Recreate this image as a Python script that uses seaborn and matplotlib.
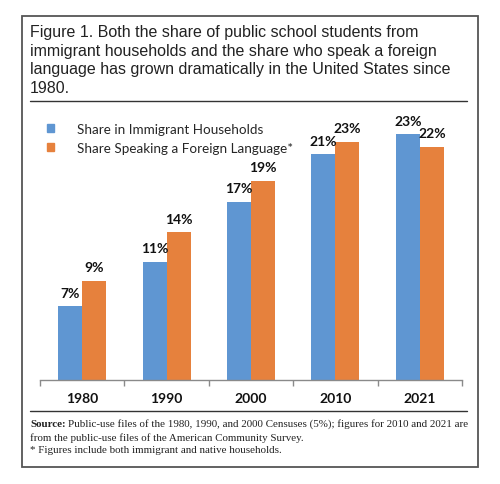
import matplotlib
matplotlib.use("Agg")
import matplotlib.pyplot as plt
import seaborn as sns
import pandas as pd
from matplotlib.patches import Rectangle
from matplotlib.lines import Line2D

years = ["1980", "1990", "2000", "2010", "2021"]
immigrant = [7.0, 11.2, 16.9, 21.4, 23.3]
foreign_lang = [9.4, 14.0, 18.9, 22.6, 22.1]
series_names = ["Share in Immigrant Households", "Share Speaking a Foreign Language*"]
colors = ["#5F96D2", "#E6813D"]

title = ("Figure 1. Both the share of public school students from\n"
         "immigrant households and the share who speak a foreign\n"
         "language has grown dramatically in the United States since\n"
         "1980.")
source_bold = "Source:"
source_rest = "Public-use files of the 1980, 1990, and 2000 Censuses (5%); figures for 2010 and 2021 are"
source_line2 = "from the public-use files of the American Community Survey."
source_line3 = "* Figures include both immigrant and native households."

df = pd.DataFrame({
    "year": years * 2,
    "value": immigrant + foreign_lang,
    "series": [series_names[0]] * len(years) + [series_names[1]] * len(years),
})

sns.set_theme(style="white")
W, H = 500, 485
fig = plt.figure(figsize=(W / 100, H / 100), dpi=100)

def fx(x):
    return x / W

def fy(y):
    return 1 - y / H

ax = fig.add_axes([fx(40), fy(381), fx(462) - fx(40), fy(115) - fy(381)])
sns.barplot(data=df, x="year", y="value", hue="series", palette=colors,
            width=0.57, ax=ax, saturation=1, legend=False, edgecolor="none")
ax.set_ylim(0, 266 / 10.55)
ax.set_xlim(-0.5, len(years) - 0.5)
for c in ax.containers:
    ax.bar_label(c, labels=[f"{int(v + 0.5)}%" for v in c.datavalues], padding=5.5,
                 fontsize=10, fontweight="bold", family="Lato", color="#111111")

for s in ["top", "right", "left"]:
    ax.spines[s].set_visible(False)
ax.spines["bottom"].set_color("#8a8a8a")
ax.spines["bottom"].set_linewidth(1.0)
ax.set_yticks([])
ax.set_xlabel("")
ax.set_ylabel("")
ax.set_xticks(range(len(years)))
ax.set_xticklabels(years, fontsize=10, fontweight="bold", family="Lato", color="#111111")
ax.tick_params(axis="x", length=0, pad=9)
ax.set_xticks([i - 0.5 for i in range(len(years) + 1)], minor=True)
ax.tick_params(axis="x", which="minor", length=4, direction="out", color="#8a8a8a", width=1, bottom=True)

# legend
handles = [Rectangle((0, 0), 1, 1, color=c) for c in colors]
fig.legend(handles, series_names, loc="upper left",
           bbox_to_anchor=(fx(47), fy(123.5)), frameon=False, borderpad=0,
           borderaxespad=0, handlelength=0.55, handleheight=0.55, handletextpad=1.7,
           labelspacing=0.55, prop={"family": "Lato", "size": 9.7})

# outer box
fig.patches.append(Rectangle((fx(22), fy(468)), fx(478) - fx(22), fy(17) - fy(468),
                             transform=fig.transFigure, fill=False,
                             edgecolor="#555555", linewidth=1.3))
# rules
fig.add_artist(Line2D([fx(30), fx(467)], [fy(102), fy(102)], color="#333333", lw=1.0))
fig.add_artist(Line2D([fx(30), fx(467)], [fy(412), fy(412)], color="#333333", lw=1.0))

fig.text(fx(30), fy(25), title, ha="left", va="top", fontsize=11.5,
         family="Liberation Sans", color="#222222", linespacing=1.3)

src_fs = 7.9
t1 = fig.text(fx(30), fy(420), source_bold, ha="left", va="top", fontsize=src_fs,
              family="Liberation Serif", fontweight="bold", color="#222222")
ax.annotate(source_rest, xy=(1, 0), xycoords=t1, xytext=(2, 0),
            textcoords="offset points", ha="left", va="bottom", fontsize=src_fs,
            family="Liberation Serif", color="#222222", annotation_clip=False)
fig.text(fx(30), fy(433), source_line2, ha="left", va="top", fontsize=src_fs,
         family="Liberation Serif", color="#222222")
fig.text(fx(30), fy(446), source_line3, ha="left", va="top", fontsize=src_fs,
         family="Liberation Serif", color="#222222")

fig.savefig("out.png", dpi=100)
